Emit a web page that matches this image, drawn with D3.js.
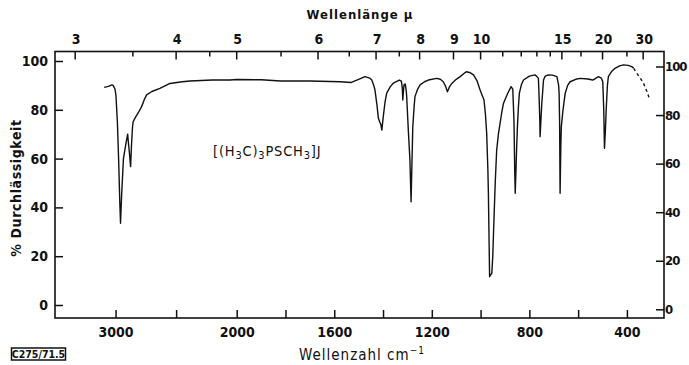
<!DOCTYPE html>
<html>
<head>
<meta charset="utf-8">
<script src="https://cdn.jsdelivr.net/npm/d3@7"></script>
<style>
body { margin: 0; background: #fff; }
svg text { font-family: "DejaVu Sans Condensed", "DejaVu Sans", sans-serif; fill: #111; }
</style>
</head>
<body>
<svg id="chart" width="689" height="365"></svg>
<script>
// spectrum: wavenumber (cm-1) and % transmission
var waveNumbers = [3094, 3060, 3030, 3020, 3005, 2997, 2985, 2975, 2965, 2959, 2950, 2935, 2915, 2900, 2893, 2885, 2876, 2868, 2860, 2855,
    2835, 2810, 2785, 2760, 2744, 2700, 2634, 2551, 2450, 2386, 2200, 2055, 2000, 1900, 1820, 1700, 1576, 1530, 1500, 1474,
    1455, 1446, 1438, 1433, 1425, 1419, 1414, 1409, 1405, 1399, 1392, 1385, 1370, 1358, 1333, 1325, 1321, 1319, 1316, 1314,
    1309, 1305, 1303, 1296, 1290, 1285, 1281, 1278, 1272, 1269, 1258, 1248, 1230, 1214, 1180, 1165, 1153, 1143, 1136, 1127,
    1118, 1100, 1084, 1059, 1045, 1029, 1015, 1002, 990, 986, 980, 975, 970, 968, 965, 963, 958, 954, 950, 947,
    940, 934, 927, 920, 913, 906, 890, 875, 868, 863, 860, 858, 855, 852, 849, 845, 841, 832, 824, 800,
    776, 768, 763, 760, 757, 756, 753, 749, 745, 742, 735, 722, 705, 687, 680, 678, 676, 674, 671, 669,
    662, 653, 643, 633, 610, 592, 560, 540, 530, 517, 505, 499, 495, 492, 488, 485, 480, 476, 462, 449,
    430, 414, 395, 380, 372];
var transmission = [89.2, 89.6, 90.2, 90.0, 88.5, 86, 75, 60, 42, 33.5, 45, 60, 66, 70, 66, 62, 56.7, 66, 73, 75.1,
    77, 79, 81.3, 84.5, 86.1, 87.5, 88.8, 90.8, 91.5, 91.8, 92.2, 92.2, 92.4, 92.3, 91.8, 91.8, 91.5, 91.2, 92.5, 93.6,
    93, 92.2, 90, 88.1, 82, 76.5, 75.1, 74, 71.7, 77.2, 83, 86.8, 89.5, 90.9, 92.2, 91.8, 89, 84, 88, 90.2,
    90.6, 88, 85.4, 71, 60, 42.3, 60, 73, 82, 85.4, 88.5, 90.2, 91.5, 92.2, 92.9, 92.5, 91.5, 89.5, 87.4, 89.5,
    90.8, 92.5, 93.6, 95.6, 95.3, 94.3, 92, 88.1, 85, 84, 78, 70.4, 55, 45.8, 25, 11.6, 12.5, 12.9, 20, 29.4,
    50, 63.5, 70, 74.5, 79, 82.7, 86.5, 89.5, 88.5, 75, 55, 45.8, 55, 65, 73, 81, 86.8, 90.5, 92.2, 93.8,
    94.3, 93.5, 92.9, 85, 75, 69, 75, 82.7, 88, 92.2, 93.8, 94.3, 94.2, 93.6, 90, 86.8, 75, 45.8, 65, 73,
    80, 86.8, 90, 91.5, 92.5, 92.9, 92.6, 92.2, 92.8, 93.6, 93, 91.5, 80, 64.2, 72, 80, 90, 93.6, 95.8, 97,
    98, 98.4, 98.2, 97.7, 97];
// dashed end of the trace
var dashWaveNumbers = [372, 360, 345, 332, 318, 307];
var dashTransmission = [97, 95, 93, 90.9, 87.5, 84.3];

var bottomTicks = [3000, 2500, 2000, 1800, 1600, 1400, 1200, 1000, 800, 600, 400];
var bottomLabels = [3000, 2000, 1600, 1200, 800, 400];
var topTicks = [3, 3.5, 4, 4.5, 5, 5.5, 6, 6.5, 7, 7.5, 8, 9, 10, 11, 12, 13, 14, 15, 17, 20, 25, 30];
var topLabels = [3, 4, 5, 6, 7, 8, 9, 10, 15, 20, 30];
var yTicks = [0, 20, 40, 60, 80, 100];

var frame = {left: 55, right: 664, top: 51.5, bottom: 318};
var svg = d3.select("#chart");

// grating change at 2000 cm-1: scale doubles below it
var x = d3.scaleLinear()
    .domain([3500, 2000, 250])
    .range([55, 236.7, 663.5]);
var y = d3.scaleLinear().domain([0, 100]).range([305, 61]);
var yRight = d3.scaleLinear().domain([0, 100]).range([309.3, 66.5]);

svg.append("rect")
    .attr("x", frame.left).attr("y", frame.top)
    .attr("width", frame.right - frame.left).attr("height", frame.bottom - frame.top)
    .attr("fill", "none").attr("stroke", "#111").attr("stroke-width", 1.6);

var bottomAxis = d3.axisBottom(x)
    .tickValues(bottomTicks)
    .tickSize(-8)
    .tickPadding(9)
    .tickFormat(function(d){ return bottomLabels.indexOf(d) >= 0 ? d : ""; });
svg.append("g")
    .attr("transform", "translate(0," + frame.bottom + ")")
    .call(bottomAxis)
    .call(function(g){ g.select(".domain").remove(); });

var leftAxis = d3.axisLeft(y).tickValues(yTicks).tickSize(-8).tickPadding(7);
svg.append("g")
    .attr("transform", "translate(" + frame.left + ",0)")
    .call(leftAxis)
    .call(function(g){ g.select(".domain").remove(); });

var rightAxis = d3.axisRight(yRight).tickValues(yTicks).tickSize(-8).tickPadding(1);
var rightG = svg.append("g")
    .attr("transform", "translate(" + frame.right + ",0)")
    .call(rightAxis)
    .call(function(g){ g.select(".domain").remove(); });

svg.selectAll(".tick line").attr("stroke", "#111").attr("stroke-width", 1.5);
svg.selectAll(".tick text")
    .attr("font-family", "DejaVu Sans Condensed, DejaVu Sans, sans-serif")
    .attr("font-size", 14).attr("font-weight", "bold").attr("fill", "#111");
// right labels sit against the page edge
rightG.selectAll(".tick text").attr("font-size", 13).attr("letter-spacing", -1);

// wavelength scale along the top, in micron
var topAxis = svg.append("g");
topAxis.selectAll("line")
    .data(topTicks)
    .enter()
    .append("line")
    .attr("x1", function(d){ return x(10000 / d); })
    .attr("x2", function(d){ return x(10000 / d); })
    .attr("y1", frame.top)
    .attr("y2", function(d){ return frame.top + (topLabels.indexOf(d) >= 0 ? 8 : 5); })
    .attr("stroke", "#111").attr("stroke-width", 1.5);
topAxis.selectAll("text")
    .data(topLabels)
    .enter()
    .append("text")
    .attr("x", function(d){ return x(10000 / d) + 1; })
    .attr("y", 44)
    .attr("text-anchor", "middle")
    .attr("font-size", 14).attr("font-weight", "bold")
    .text(function(d){ return d; });

var line = d3.line()
    .x(function(d){ return x(d[0]); })
    .y(function(d){ return y(d[1]); });

svg.append("path")
    .datum(d3.zip(waveNumbers, transmission))
    .attr("d", line)
    .attr("fill", "none").attr("stroke", "#111").attr("stroke-width", 1.4)
    .attr("stroke-linejoin", "round");

svg.append("path")
    .datum(d3.zip(dashWaveNumbers, dashTransmission))
    .attr("d", line)
    .attr("fill", "none").attr("stroke", "#111").attr("stroke-width", 1.4)
    .attr("stroke-dasharray", "3,3");

// titles
svg.append("text")
    .attr("x", 360).attr("y", 19)
    .attr("text-anchor", "middle")
    .attr("font-size", 13).attr("font-weight", "bold").attr("letter-spacing", 1)
    .text("Wellenlänge  μ");

var xTitle = svg.append("text")
    .attr("x", 362).attr("y", 360)
    .attr("text-anchor", "middle")
    .attr("font-size", 15).attr("letter-spacing", 1);
xTitle.append("tspan").text("Wellenzahl  cm");
xTitle.append("tspan").attr("dy", -6).attr("font-size", 10).text("−1");

svg.append("text")
    .attr("transform", "translate(21,188) rotate(-90)")
    .attr("text-anchor", "middle")
    .attr("font-size", 14).attr("font-weight", "bold").attr("letter-spacing", 0.6)
    .text("% Durchlässigkeit");

// compound label
var formula = svg.append("text")
    .attr("x", 213).attr("y", 156)
    .attr("font-size", 14.5).attr("letter-spacing", 0.8);
[["[(H", 0], ["3", 3], ["C)", -3], ["3", 3], ["PSCH", -3], ["3", 3], ["]J", -3]].forEach(function(p){
    formula.append("tspan")
        .attr("dy", p[1])
        .attr("font-size", p[1] > 0 ? 11 : 14.5)
        .text(p[0]);
});

// archive stamp in the corner
svg.append("rect")
    .attr("x", 11.5).attr("y", 348).attr("width", 54).attr("height", 12)
    .attr("fill", "none").attr("stroke", "#111").attr("stroke-width", 1.5);
svg.append("text")
    .attr("x", 38.5).attr("y", 358.3)
    .attr("text-anchor", "middle")
    .attr("font-size", 10.5).attr("font-weight", "bold")
    .text("C275/71.5");
</script>
</body>
</html>
